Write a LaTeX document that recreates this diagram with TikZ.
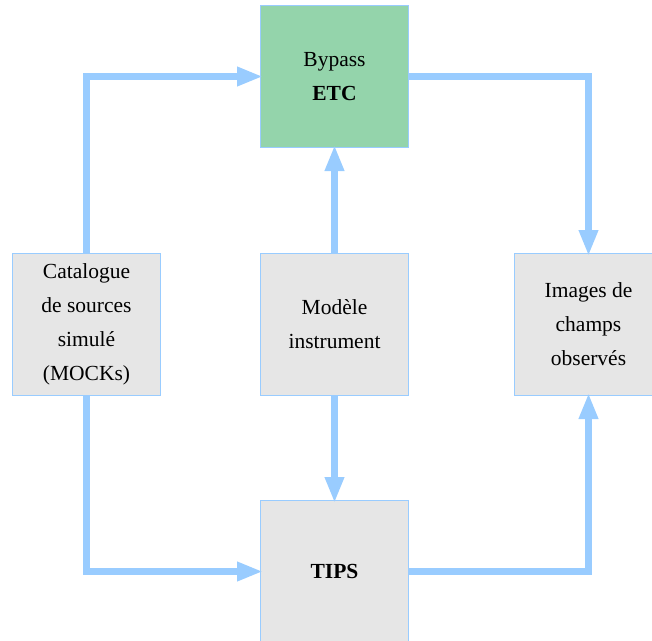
\documentclass[tikz,border=0pt]{standalone}
\usepackage{fontspec}
\setmainfont{Liberation Serif}
\usetikzlibrary{arrows.meta}
\definecolor{edgeblue}{HTML}{99CCFF}
\definecolor{boxgrey}{HTML}{E6E6E6}
\definecolor{boxgreen}{HTML}{94D4AB}
\begin{document}
\begin{tikzpicture}[x=1pt,y=-1pt,
  box/.style={draw=edgeblue, line width=1pt, fill=boxgrey, minimum width=148pt, minimum height=142pt,
    inner sep=0pt, align=center, font=\fontsize{21.5pt}{34pt}\selectfont, anchor=north west},
  link/.style={draw=edgeblue, line width=7pt, shorten >=-3pt, -{Triangle[length=26pt,width=18pt]}}]
\clip (0,0) rectangle (652,640);
\node[box, fill=boxgreen] (etc) at (260,5) {Bypass\\\textbf{ETC}};
\node[box] (cat) at (12,253) {Catalogue\\de sources\\simulé\\(MOCKs)};
\node[box] (mod) at (260,253) {Modèle\\instrument};
\node[box] (img) at (514,253) {Images de\\champs\\observés};
\node[box] (tips) at (260,500) {\textbf{TIPS}};
\draw[link] (cat.north) |- (etc.west);
\draw[link] (etc.east) -| (img.north);
\draw[link] (mod.north) -- (etc.south);
\draw[link] (mod.south) -- (tips.north);
\draw[link] (cat.south) |- (tips.west);
\draw[link] (tips.east) -| (img.south);
\end{tikzpicture}
\end{document}
